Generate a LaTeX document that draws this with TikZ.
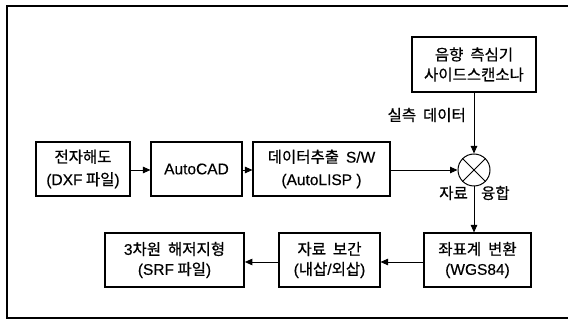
\documentclass[tikz,border=0pt]{standalone}
\usepackage{fontspec}
\setmainfont{Noto Sans CJK KR}[FakeBold=0.6]
\newfontfamily\latf{Liberation Sans}[FakeBold=0.4]
\newcommand\la[1]{{\latf #1}}
\usetikzlibrary{arrows.meta}
\tikzset{
  box/.style={draw, line width=1.1pt, align=center, inner sep=0pt, font=\fontsize{15.5}{20}\selectfont},
  boxa/.style={box, font=\fontsize{15.5}{22.5}\selectfont},
  conn/.style={line width=0.9pt, -{Triangle[length=7.5pt,width=6.5pt]}},
  lbl/.style={inner sep=0pt, font=\fontsize{15.5}{16}\selectfont},
}
\begin{document}
\begin{tikzpicture}[x=1pt,y=-1pt]
\useasboundingbox (0,0) rectangle (568,320);
% outer frame (right edge off-image)
\draw[line width=1.2pt] (580,6) -- (7,6) -- (7,318) -- (580,318);
% top box
\node[box, minimum width=124pt, minimum height=55pt] (sonar) at (474,64.5) {음향\ \ 측심기\\사이드스캔소나};
% row 1
\node[boxa, minimum width=94pt, minimum height=54pt] (enc) at (83,169) {전자해도\\\la{(DXF} 파일\la{)}};
\node[boxa, minimum width=91pt, minimum height=54pt] (cad) at (196.5,169) {\la{AutoCAD}};
\node[boxa, minimum width=137pt, minimum height=54pt] (sw) at (321.5,169) {데이터추출\ \ \la{S/W}\\\la{(AutoLISP )}};
\node[draw, circle, line width=1pt, minimum size=32pt, inner sep=0pt] (fus) at (474,170) {};
\draw[line width=0.9pt] (fus.45) -- (fus.225) (fus.135) -- (fus.-45);
% row 2
\node[box, line width=1.7pt, minimum width=139pt, minimum height=54pt] (srf) at (174.5,260) {\la{3}차원\ \ 해저지형\\\la{(SRF} 파일\la{)}};
\node[box, minimum width=101pt, minimum height=54pt] (itp) at (329.5,260) {자료\ \ 보간\\\la{(}내삽\la{/}외삽\la{)}};
\node[box, minimum width=107pt, minimum height=54pt] (wgs) at (477.5,260) {좌표계\ \ 변환\\\la{(WGS84)}};
% labels
\node[lbl, anchor=east] (meas) at (466,115) {실측\ \ 데이터};
\node[lbl, anchor=east] (lab1) at (468,193) {자료};
\node[lbl, anchor=west] (lab2) at (481,193) {융합};
% connectors
\draw[conn] (sonar.south -| fus.north) -- (fus.north);
\draw[conn] (enc.east |- 0,170) -- (cad.west |- 0,170);
\draw[conn] (cad.east |- 0,170) -- (sw.west |- 0,170);
\draw[conn] (sw.east |- fus.west) -- (fus.west);
\draw[conn] (fus.south) -- (fus.south |- wgs.north);
\draw[conn] (wgs.west |- 0,262) -- (itp.east |- 0,262);
\draw[conn] (itp.west |- 0,262) -- (srf.east |- 0,262);
\end{tikzpicture}
\end{document}
